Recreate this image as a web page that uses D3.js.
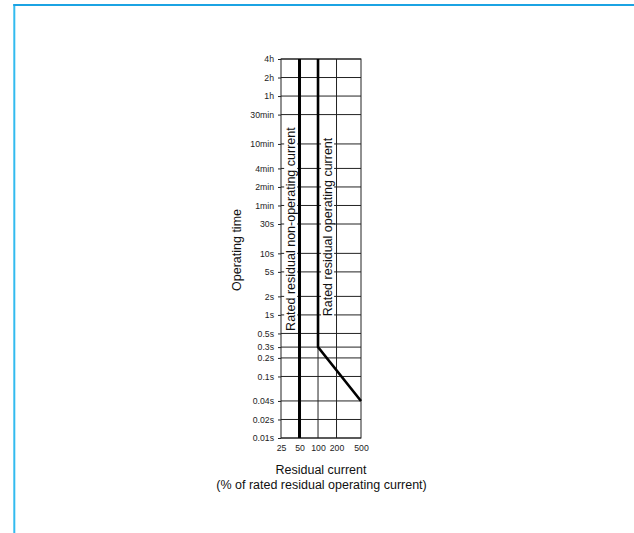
<!DOCTYPE html>
<html>
<head>
<meta charset="utf-8">
<script src="https://cdn.jsdelivr.net/npm/d3@7"></script>
<style>
  body { margin: 0; background: #fff; }
  svg { display: block; font-family: "Liberation Sans", Arial, Helvetica, sans-serif; }
</style>
</head>
<body>
<div id="chart"></div>
<script>
// residual current, % of rated residual operating current
const xTicks = [25, 50, 100, 200, 500];
const xGrid = [200];

// operating time ticks (seconds) and their labels
const yTicks = [14400, 7200, 3600, 1800, 600, 240, 120, 60, 30, 10, 5, 2, 1, 0.5, 0.3, 0.2, 0.1, 0.04, 0.02, 0.01];
const yLabels = ["4h", "2h", "1h", "30min", "10min", "4min", "2min", "1min", "30s", "10s", "5s", "2s", "1s", "0.5s", "0.3s", "0.2s", "0.1s", "0.04s", "0.02s", "0.01s"];

// characteristic lines: [current %, time s]
const nonOperating = [[50, 0.01], [50, 14400]];
const operating = [[100, 14400], [100, 0.3], [500, 0.04]];

const W = 634, H = 533;
const plot = { left: 281, right: 361, top: 59, bottom: 438 };

const svg = d3.select("#chart").append("svg")
    .attr("width", W)
    .attr("height", H);

// blue frame of the page
svg.append("line")
    .attr("x1", 14.3).attr("x2", 14.3).attr("y1", 4).attr("y2", H)
    .attr("stroke", "#33bbef").attr("stroke-width", 2);
svg.append("line")
    .attr("x1", 13.3).attr("x2", W).attr("y1", 5).attr("y2", 5)
    .attr("stroke", "#1ba3e3").attr("stroke-width", 2);

const x = d3.scaleLog().domain([25, 500]).range([plot.left, plot.right]);
const y = d3.scaleLog().domain([0.01, 14400]).range([plot.bottom, plot.top]);

// horizontal grid
svg.append("g")
    .selectAll("line")
    .data(yTicks)
    .join("line")
    .attr("x1", plot.left).attr("x2", plot.right)
    .attr("y1", d => y(d)).attr("y2", d => y(d))
    .attr("stroke", "#222").attr("stroke-width", 1);

// thin vertical grid
svg.append("g")
    .selectAll("line")
    .data(xGrid)
    .join("line")
    .attr("x1", d => x(d)).attr("x2", d => x(d))
    .attr("y1", plot.top).attr("y2", plot.bottom)
    .attr("stroke", "#222").attr("stroke-width", 1);

// thin line at 100 below the curve
svg.append("line")
    .attr("x1", x(100)).attr("x2", x(100))
    .attr("y1", plot.top).attr("y2", plot.bottom)
    .attr("stroke", "#222").attr("stroke-width", 1);

// plot frame
svg.append("rect")
    .attr("x", plot.left).attr("y", plot.top)
    .attr("width", plot.right - plot.left).attr("height", plot.bottom - plot.top)
    .attr("fill", "none").attr("stroke", "#222").attr("stroke-width", 1);

// y axis
const yAxis = svg.append("g")
    .attr("transform", `translate(${plot.left},0)`)
    .call(d3.axisLeft(y).tickValues(yTicks).tickSize(3).tickPadding(4)
        .tickFormat((d, i) => yLabels[i]));
yAxis.select(".domain").remove();
yAxis.selectAll("line").attr("stroke", "#222");
yAxis.selectAll("text")
    .attr("font-size", 8.7)
    .attr("font-family", "Liberation Sans, Arial, sans-serif")
    .attr("fill", "#222");

// x axis
const xAxis = svg.append("g")
    .attr("transform", `translate(0,${plot.bottom})`)
    .call(d3.axisBottom(x).tickValues(xTicks).tickSize(0).tickPadding(7)
        .tickFormat(d3.format("d")));
xAxis.select(".domain").remove();
xAxis.selectAll("text")
    .attr("font-size", 8.7)
    .attr("font-family", "Liberation Sans, Arial, sans-serif")
    .attr("fill", "#222");

// rotated labels inside the plot, with white background
function inner(label, xv, yv) {
    const g = svg.append("g")
        .attr("transform", `translate(${x(xv)},${y(yv)}) rotate(-90)`);
    const bg = g.append("rect").attr("fill", "#fff");
    const t = g.append("text")
        .attr("x", 0).attr("y", 0)
        .attr("dy", "0.35em")
        .attr("font-size", 12.5)
        .attr("fill", "#111")
        .text(label);
    const b = t.node().getBBox();
    bg.attr("x", b.x - 1).attr("y", b.y + 0.5)
        .attr("width", b.width + 2).attr("height", b.height - 1);
}
inner("Rated residual non-operating current", 35.4, 0.55);
inner("Rated residual operating current", 141, 0.95);

// characteristic curves
const line = d3.line().x(d => x(d[0])).y(d => y(d[1]));
svg.append("path")
    .datum(nonOperating)
    .attr("d", line)
    .attr("fill", "none").attr("stroke", "#000").attr("stroke-width", 3);
svg.append("path")
    .datum(operating)
    .attr("d", line)
    .attr("fill", "none").attr("stroke", "#000").attr("stroke-width", 2.6);

// axis titles
svg.append("text")
    .attr("transform", `translate(237,250) rotate(-90)`)
    .attr("text-anchor", "middle")
    .attr("dy", "0.35em")
    .attr("font-size", 12.5)
    .attr("fill", "#111")
    .text("Operating time");

svg.append("text")
    .attr("x", 321).attr("y", 474)
    .attr("text-anchor", "middle")
    .attr("font-size", 12.5)
    .attr("fill", "#111")
    .text("Residual current");
svg.append("text")
    .attr("x", 321.5).attr("y", 489)
    .attr("text-anchor", "middle")
    .attr("font-size", 12.5)
    .attr("fill", "#111")
    .text("(% of rated residual operating current)");
</script>
</body>
</html>
